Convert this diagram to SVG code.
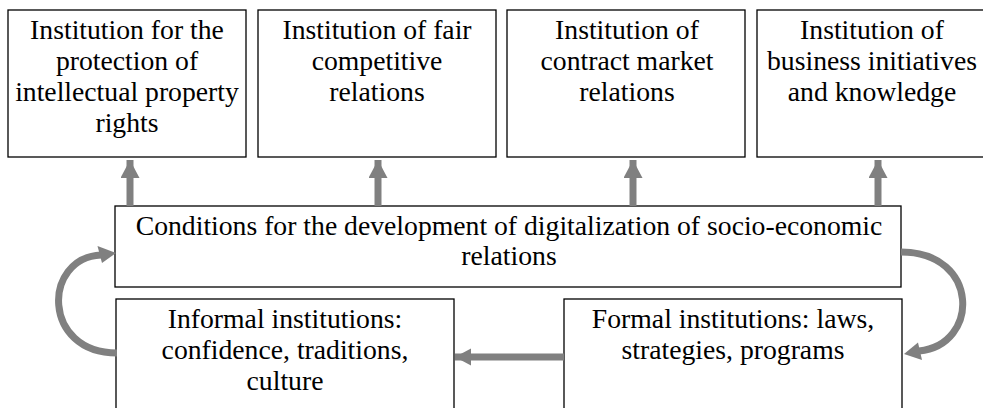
<svg xmlns="http://www.w3.org/2000/svg" width="983" height="408" viewBox="0 0 983 408">
<style>
.box{fill:#fff;stroke:#000;stroke-width:1.3}
text{font-family:'Liberation Serif','Times New Roman',serif;font-size:27.7px;fill:#000;text-anchor:middle}
.c{fill:none;stroke:#808080;stroke-width:7}
</style>
<defs>
<marker id="up" markerUnits="userSpaceOnUse" markerWidth="20" markerHeight="20" refX="18" refY="9.5" orient="auto" viewBox="0 0 20 20">
<path d="M0,0 L18,9.5 L0,19 z" fill="#808080"/>
</marker>
<marker id="ah" markerUnits="userSpaceOnUse" markerWidth="20" markerHeight="20" refX="16" refY="8.5" orient="auto" viewBox="0 0 20 20">
<path d="M0,0 L16,8.5 L0,17 z" fill="#808080"/>
</marker>
</defs>
<rect width="983" height="408" fill="#fff"/>
<g id="n1"><rect class="box" x="8" y="10" width="238" height="147"/>
<text><tspan x="127" y="39">Institution for the</tspan><tspan x="127" y="70">protection of</tspan><tspan x="127" y="101">intellectual property</tspan><tspan x="127" y="132">rights</tspan></text></g>
<g id="n2"><rect class="box" x="258" y="10" width="238" height="147"/>
<text><tspan x="377" y="39">Institution of fair</tspan><tspan x="377" y="70">competitive</tspan><tspan x="377" y="101">relations</tspan></text></g>
<g id="n3"><rect class="box" x="507" y="10" width="238" height="147"/>
<text><tspan x="627" y="39">Institution of</tspan><tspan x="627" y="70">contract market</tspan><tspan x="627" y="101">relations</tspan></text></g>
<g id="n4"><rect class="box" x="757" y="10" width="240" height="147"/>
<text><tspan x="872" y="39">Institution of</tspan><tspan x="872" y="70">business initiatives</tspan><tspan x="872" y="101">and knowledge</tspan></text></g>
<g id="n5"><rect class="box" x="115" y="206" width="786" height="81"/>
<text><tspan x="509" y="235">Conditions for the development of digitalization of socio-economic</tspan><tspan x="509" y="265">relations</tspan></text></g>
<g id="n6"><rect class="box" x="116" y="299" width="338" height="120"/>
<text><tspan x="285" y="328">Informal institutions:</tspan><tspan x="285" y="359">confidence, traditions,</tspan><tspan x="285" y="390">culture</tspan></text></g>
<g id="n7"><rect class="box" x="564" y="299" width="338" height="120"/>
<text><tspan x="733" y="328">Formal institutions: laws,</tspan><tspan x="733" y="359">strategies, programs</tspan></text></g>
<g id="connectors">
<path class="c" d="M130,206 V160" marker-end="url(#up)"/>
<path class="c" d="M378,206 V160" marker-end="url(#up)"/>
<path class="c" d="M633,206 V160" marker-end="url(#up)"/>
<path class="c" d="M878,206 V160" marker-end="url(#up)"/>
<path class="c" d="M564,357 H455" marker-end="url(#ah)"/>
<path class="c" d="M117,353 C42,353 42,258 101,255"/>
<path d="M116,253 L97.5,246 L102,263 z" fill="#808080"/>
<path class="c" d="M901,252 C980,252 980,345 919,351"/>
<path d="M904,354 L918,342.5 L922,360 z" fill="#808080"/>
</g>
</svg>
